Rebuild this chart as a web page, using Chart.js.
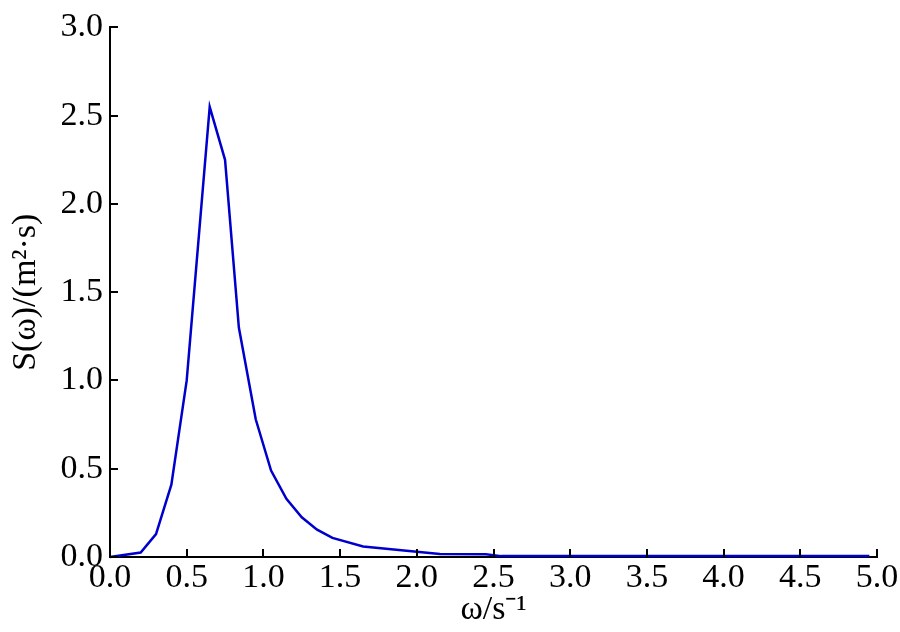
<!DOCTYPE html>
<html>
<head>
<meta charset="utf-8">
<script src="https://cdn.jsdelivr.net/npm/chart.js@4/dist/chart.umd.min.js"></script>
<style>
  html, body { margin: 0; padding: 0; background: #ffffff; }
  #wrap { width: 900px; height: 632px; }
</style>
</head>
<body>
<div id="wrap"><canvas id="c" width="900" height="632"></canvas></div>
<script>
// ---- data ----
const omega    = [0, 0.2, 0.3, 0.4, 0.5, 0.65, 0.75, 0.84, 0.95, 1.05, 1.15, 1.25, 1.35, 1.45, 1.65, 2.0, 2.15, 2.45, 2.55, 4.95];
const spectrum = [0, 0.025, 0.13, 0.41, 1.0, 2.55, 2.25, 1.30, 0.78, 0.49, 0.33, 0.225, 0.155, 0.108, 0.06, 0.03, 0.017, 0.016, 0.005, 0.005];
const xTickLabels = ['0.0', '0.5', '1.0', '1.5', '2.0', '2.5', '3.0', '3.5', '4.0', '4.5', '5.0'];
const yTickLabels = ['0.0', '0.5', '1.0', '1.5', '2.0', '2.5', '3.0'];
const xTitle = 'ω/s⁻¹';
const yTitle = 'S(ω)/(m²·s)';

const points = omega.map((w, i) => ({ x: w, y: spectrum[i] }));
const FONT = '"Liberation Serif", "Times New Roman", serif';

// inward tick marks drawn at the scales' own tick positions
const inwardTicks = {
  id: 'inwardTicks',
  afterDatasetsDraw(chart) {
    const ctx = chart.ctx;
    const xs = chart.scales.x, ys = chart.scales.y;
    const len = 8;
    ctx.save();
    ctx.strokeStyle = '#000000';
    ctx.lineWidth = 2;
    ctx.beginPath();
    xs.ticks.forEach(t => {
      const px = Math.round(xs.getPixelForValue(t.value));
      ctx.moveTo(px, xs.top);
      ctx.lineTo(px, xs.top - len);
    });
    ys.ticks.forEach(t => {
      const py = Math.round(ys.getPixelForValue(t.value));
      ctx.moveTo(ys.right, py);
      ctx.lineTo(ys.right + len, py);
    });
    ctx.stroke();
    ctx.restore();
  }
};

new Chart(document.getElementById('c'), {
  type: 'line',
  data: {
    datasets: [{
      data: points,
      borderColor: '#0000CD',
      borderWidth: 2.5,
      pointRadius: 0,
      tension: 0,
      fill: false,
      clip: 6
    }]
  },
  options: {
    responsive: false,
    animation: false,
    devicePixelRatio: 1,
    layout: { padding: { left: 0, right: 23, top: 26, bottom: 0 } },
    plugins: { legend: { display: false }, tooltip: { enabled: false } },
    scales: {
      x: {
        type: 'linear',
        min: 0, max: 5,
        afterFit(scale) { scale.height = 75; },
        afterBuildTicks(scale) {
          scale.ticks = xTickLabels.map(l => ({ value: parseFloat(l) }));
        },
        ticks: {
          stepSize: 0.5,
          padding: 1,
          maxRotation: 0,
          autoSkip: false,
          color: '#000000',
          font: { family: FONT, size: 34 },
          callback: (v, i) => xTickLabels[i]
        },
        grid: { display: false, drawTicks: false },
        border: { display: true, color: '#000000', width: 2 },
        title: {
          display: true,
          text: xTitle,
          color: '#000000',
          font: { family: FONT, size: 34 },
          padding: { top: 0, bottom: 2 }
        }
      },
      y: {
        min: 0, max: 3,
        afterFit(scale) { scale.width = 110; },
        afterBuildTicks(scale) {
          scale.ticks = yTickLabels.map(l => ({ value: parseFloat(l) }));
        },
        ticks: {
          stepSize: 0.5,
          padding: 7,
          autoSkip: false,
          color: '#000000',
          font: { family: FONT, size: 34 },
          callback: (v, i) => yTickLabels[i]
        },
        grid: { display: false, drawTicks: false },
        border: { display: true, color: '#000000', width: 2 },
        title: {
          display: true,
          text: yTitle,
          color: '#000000',
          font: { family: FONT, size: 34 },
          padding: { top: 6, bottom: 0 }
        }
      }
    }
  },
  plugins: [inwardTicks]
});
</script>
</body>
</html>
